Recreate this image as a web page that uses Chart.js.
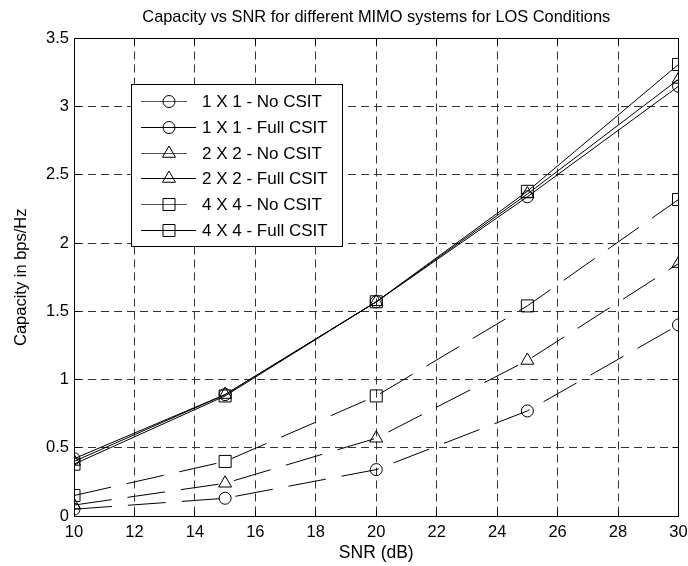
<!DOCTYPE html>
<html>
<head>
<meta charset="utf-8">
<script src="https://cdn.jsdelivr.net/npm/chart.js@4"></script>
<style>
  html, body { margin: 0; padding: 0; background: #fff; }
</style>
</head>
<body>
<canvas id="capChart" width="688" height="566"></canvas>
<script>
const snrDb = [10, 15, 20, 25, 30];
const seriesLabels = [
  "1 X 1 - No CSIT", "1 X 1 - Full CSIT",
  "2 X 2 - No CSIT", "2 X 2 - Full CSIT",
  "4 X 4 - No CSIT", "4 X 4 - Full CSIT"
];
const cap1x1NoCsit = [0.05, 0.13, 0.34, 0.77, 1.40];
const cap1x1FullCsit = [0.42, 0.89, 1.57, 2.34, 3.15];
const cap2x2NoCsit = [0.08, 0.24, 0.57, 1.14, 1.85];
const cap2x2FullCsit = [0.40, 0.89, 1.57, 2.36, 3.20];
const cap4x4NoCsit = [0.15, 0.40, 0.88, 1.54, 2.32];
const cap4x4FullCsit = [0.38, 0.88, 1.57, 2.38, 3.31];

const allSeries = [cap1x1NoCsit, cap1x1FullCsit, cap2x2NoCsit, cap2x2FullCsit, cap4x4NoCsit, cap4x4FullCsit];
const markers = ["circle", "circle", "triangle", "triangle", "rect", "rect"];
const markerSize = { circle: 6, triangle: 7.5, rect: 8.5 };
const fontFamily = '"Liberation Sans", Arial, Helvetica, sans-serif';

const datasets = allSeries.map((vals, i) => {
  const noCsit = i % 2 === 0;
  return {
    label: seriesLabels[i],
    data: snrDb.map((x, j) => ({ x: x, y: vals[j] })),
    borderColor: "#000",
    borderWidth: 1,
    borderDash: noCsit ? [38, 16] : [],
    backgroundColor: "rgba(0,0,0,0)",
    pointStyle: markers[i],
    pointRadius: markerSize[markers[i]],
    pointBorderColor: "#000",
    pointBackgroundColor: "rgba(0,0,0,0)",
    pointBorderWidth: 1,
    tension: 0,
    fill: false
  };
});

const align = (p) => Math.round(p - 0.5) + 0.5;

// box round the plot, inner ticks and the boxed legend
const matlabFrame = {
  id: "matlabFrame",
  afterDatasetsDraw(chart) {
    const ctx = chart.ctx;
    const a = chart.chartArea;
    const xs = chart.scales.x, ys = chart.scales.y;
    const l = align(a.left), r = align(a.right), t = align(a.top), b = align(a.bottom);
    ctx.save();
    ctx.strokeStyle = "#000";
    ctx.lineWidth = 1;
    ctx.setLineDash([]);
    ctx.strokeRect(l, t, r - l, b - t);
    ctx.beginPath();
    xs.ticks.forEach(tk => {
      const px = align(xs.getPixelForValue(tk.value));
      ctx.moveTo(px, b); ctx.lineTo(px, b - 6);
      ctx.moveTo(px, t); ctx.lineTo(px, t + 6);
    });
    ys.ticks.forEach(tk => {
      const py = align(ys.getPixelForValue(tk.value));
      ctx.moveTo(l, py); ctx.lineTo(l + 6, py);
      ctx.moveTo(r, py); ctx.lineTo(r - 6, py);
    });
    ctx.stroke();

    // legend
    const bx = 131.5, by = 84.5, bw = 211, bh = 162;
    ctx.fillStyle = "#fff";
    ctx.fillRect(bx, by, bw, bh);
    ctx.strokeRect(bx, by, bw, bh);
    ctx.font = "17px " + fontFamily;
    ctx.textBaseline = "middle";
    chart.data.datasets.forEach((ds, i) => {
      const y = Math.round(101 + i * 25.8) + 0.5;
      const noCsit = i % 2 === 0;
      ctx.beginPath();
      ctx.strokeStyle = noCsit ? "#555" : "#000";
      ctx.moveTo(141, y);
      ctx.lineTo(noCsit ? 187 : 196, y);
      ctx.stroke();
      ctx.strokeStyle = "#000";
      ctx.fillStyle = "rgba(0,0,0,0)";
      Chart.helpers.drawPoint(ctx, {
        pointStyle: ds.pointStyle, radius: ds.pointRadius, borderWidth: 1, rotation: 0
      }, 169, y);
      ctx.fillStyle = "#000";
      ctx.fillText(ds.label, 202, y + 1);
    });
    ctx.restore();
  }
};

new Chart(document.getElementById("capChart"), {
  type: "line",
  data: { datasets: datasets },
  plugins: [matlabFrame],
  options: {
    responsive: false,
    animation: false,
    devicePixelRatio: 1,
    layout: { padding: 0 },
    plugins: {
      legend: { display: false },
      tooltip: { enabled: false }
    },
    scales: {
      // top axis only carries the title, centred over the plot box
      titleAxis: {
        type: "linear",
        position: "top",
        min: 10,
        max: 30,
        afterFit: (scale) => { scale.height = 38.5; scale.paddingLeft = 0; scale.paddingRight = 0; },
        ticks: { display: false },
        grid: { display: false },
        border: { display: false },
        title: {
          display: true,
          text: "Capacity vs SNR for different MIMO systems for LOS Conditions",
          color: "#000",
          font: { family: fontFamily, size: 16.4, weight: "normal" },
          padding: { top: 8, bottom: 0 }
        }
      },
      x: {
        type: "linear",
        min: 10,
        max: 30,
        afterFit: (scale) => { scale.height = 50; scale.paddingLeft = 0; scale.paddingRight = 8; },
        ticks: {
          stepSize: 2,
          color: "#000",
          padding: 7,
          font: { family: fontFamily, size: 16.5 }
        },
        grid: { color: "#333", lineWidth: 1, drawTicks: false },
        border: { display: true, color: "#000", dash: [8, 5] },
        title: {
          display: true,
          text: "SNR (dB)",
          color: "#000",
          font: { family: fontFamily, size: 17.5 },
          padding: { top: 0, bottom: 2 }
        }
      },
      y: {
        min: 0,
        max: 3.5,
        afterFit: (scale) => { scale.width = 74; },
        ticks: {
          stepSize: 0.5,
          color: "#000",
          padding: 5,
          font: { family: fontFamily, size: 16.5 },
          callback: (v) => String(v)
        },
        grid: { color: "#333", lineWidth: 1, drawTicks: false },
        border: { display: true, color: "#000", dash: [8, 5] },
        title: {
          display: true,
          text: "Capacity in bps/Hz",
          color: "#000",
          font: { family: fontFamily, size: 16.5 },
          padding: { top: 12, bottom: 0 }
        }
      }
    }
  }
});
</script>
</body>
</html>
